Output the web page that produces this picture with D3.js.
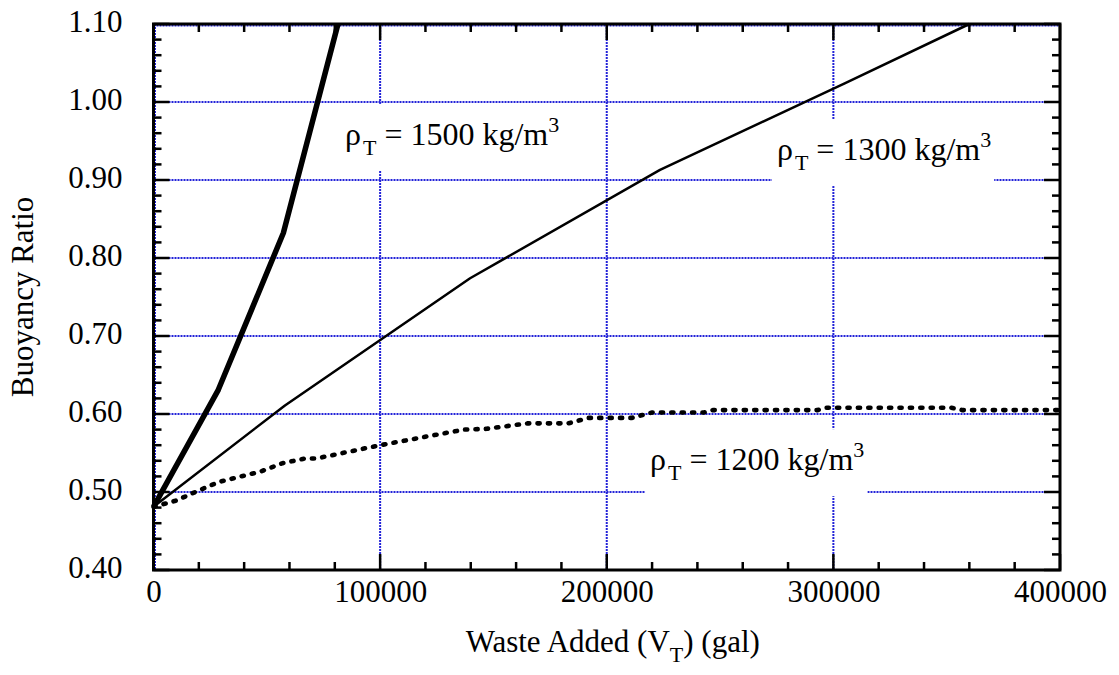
<!DOCTYPE html>
<html>
<head>
<meta charset="utf-8">
<script src="https://cdn.jsdelivr.net/npm/d3@7"></script>
<style>
  html, body { margin: 0; padding: 0; background: #fff; }
  svg { display: block; font-family: "Liberation Serif", "Times New Roman", serif; }
</style>
</head>
<body>
<svg id="chart" width="1119" height="675"></svg>
<script>
// Waste added (gal) vs buoyancy ratio for three waste densities
const rho1500Gal   = [0, 28600, 57300, 81400];
const rho1500Ratio = [0.481, 0.631, 0.832, 1.100];

const rho1300Gal   = [0, 58000, 139700, 223500, 305000, 360000];
const rho1300Ratio = [0.481, 0.611, 0.774, 0.913, 1.024, 1.100];

const rho1200Gal   = [0, 10000, 20000, 29000, 47000, 57000, 67000, 72000, 100000, 137000,
                      147000, 165000, 183000, 192000, 211000, 220000, 243000, 247000,
                      293000, 297000, 352000, 357000, 400000];
const rho1200Ratio = [0.481, 0.489, 0.502, 0.513, 0.526, 0.537, 0.543, 0.543, 0.560, 0.580,
                      0.581, 0.588, 0.588, 0.595, 0.595, 0.602, 0.602, 0.605,
                      0.605, 0.608, 0.608, 0.605, 0.605];

const xTickValues = [0, 100000, 200000, 300000, 400000];
const xTickLabels = ["0", "100000", "200000", "300000", "400000"];
const yTickValues = [0.4, 0.5, 0.6, 0.7, 0.8, 0.9, 1.0, 1.1];
const yTickLabels = ["0.40", "0.50", "0.60", "0.70", "0.80", "0.90", "1.00", "1.10"];

const curveLabels = ["1500", "1300", "1200"];
// label anchors in data units (start of text, baseline)
const labelGal   = [84500, 275100, 219100];
const labelRatio = [0.945, 0.9256, 0.528];

const svg = d3.select("#chart");
const plotL = 153.5, plotR = 1060, plotT = 24, plotB = 570;

const x = d3.scaleLinear().domain([0, 400000]).range([plotL, plotR]);
const y = d3.scaleLinear().domain([0.4, 1.1]).range([plotB, plotT]);

// grid
const gridColor = "#2323d8";
const grid = svg.append("g");
grid.selectAll("line.h").data(yTickValues).join("line")
  .attr("x1", plotL).attr("x2", plotR)
  .attr("y1", d => y(d) + (d === 1.1 ? 1.5 : 0)).attr("y2", d => y(d) + (d === 1.1 ? 1.5 : 0))
  .attr("stroke", gridColor).attr("stroke-width", 2).attr("stroke-dasharray", "2,1");
grid.selectAll("line.v").data(xTickValues).join("line")
  .attr("y1", plotT).attr("y2", plotB)
  .attr("x1", d => x(d) + (d === 0 ? 1.5 : 0)).attr("x2", d => x(d) + (d === 0 ? 1.5 : 0))
  .attr("stroke", gridColor).attr("stroke-width", 2).attr("stroke-dasharray", "2,1");

// label backgrounds and text
const bgLayer = svg.append("g");
const lineLayer = svg.append("g");
const frameLayer = svg.append("g");
const textLayer = svg.append("g");

curveLabels.forEach((val, i) => {
  const tx = x(labelGal[i]), ty = y(labelRatio[i]);
  const t = textLayer.append("text")
    .attr("x", tx).attr("y", ty)
    .attr("font-size", 32).attr("fill", "#000");
  t.append("tspan").text("ρ");
  t.append("tspan").attr("font-size", 22).attr("dy", 10).attr("dx", 2).text("T");
  t.append("tspan").attr("dy", -10).text(" = " + val + " kg/m");
  t.append("tspan").attr("font-size", 22).attr("dy", -13).text("3");
  const bb = t.node().getBBox();
  bgLayer.append("rect")
    .attr("x", bb.x - 5).attr("y", ty - 41)
    .attr("width", bb.width + 8).attr("height", 67)
    .attr("fill", "#fff");
});

// curves
const line = d3.line().x(d => x(d[0])).y(d => y(d[1]));
const zip = (a, b) => a.map((v, i) => [v, b[i]]);

lineLayer.append("path").datum(zip(rho1500Gal, rho1500Ratio))
  .attr("d", line).attr("fill", "none").attr("stroke", "#000")
  .attr("stroke-width", 5.5).attr("stroke-linejoin", "round");
lineLayer.append("path").datum(zip(rho1300Gal, rho1300Ratio))
  .attr("d", line).attr("fill", "none").attr("stroke", "#000")
  .attr("stroke-width", 2.5).attr("stroke-linejoin", "round");
lineLayer.append("path").datum(zip(rho1200Gal, rho1200Ratio))
  .attr("d", line).attr("fill", "none").attr("stroke", "#000")
  .attr("stroke-width", 4.6).attr("stroke-linecap", "round")
  .attr("stroke-dasharray", "2.2,8.2");

// ticks (inside, all four sides)
const yMinor = d3.range(0.4, 1.1001, 0.02);
const xMinor = d3.range(0, 400001, 20000);
const isMajorY = d => Math.abs(Math.round(d * 10) - d * 10) < 1e-6;
const isMajorX = d => d % 100000 === 0;
const tickW = 2.5;

frameLayer.selectAll("line.yl").data(yMinor).join("line")
  .attr("x1", plotL).attr("x2", d => plotL + (isMajorY(d) ? 16 : 8))
  .attr("y1", d => y(d)).attr("y2", d => y(d))
  .attr("stroke", "#000").attr("stroke-width", tickW);
frameLayer.selectAll("line.yr").data(yMinor).join("line")
  .attr("x1", plotR).attr("x2", d => plotR - (isMajorY(d) ? 16 : 8))
  .attr("y1", d => y(d)).attr("y2", d => y(d))
  .attr("stroke", "#000").attr("stroke-width", tickW);
frameLayer.selectAll("line.xb").data(xMinor).join("line")
  .attr("y1", plotB).attr("y2", d => plotB - (isMajorX(d) ? 16 : 8))
  .attr("x1", d => x(d)).attr("x2", d => x(d))
  .attr("stroke", "#000").attr("stroke-width", tickW);
frameLayer.selectAll("line.xt").data(xMinor).join("line")
  .attr("y1", plotT).attr("y2", d => plotT + (isMajorX(d) ? 16 : 8))
  .attr("x1", d => x(d)).attr("x2", d => x(d))
  .attr("stroke", "#000").attr("stroke-width", tickW);

frameLayer.append("rect")
  .attr("x", plotL).attr("y", plotT).attr("width", plotR - plotL).attr("height", plotB - plotT)
  .attr("fill", "none").attr("stroke", "#000").attr("stroke-width", 3);

// tick labels through d3 axes (tick lines hidden, frame drawn above)
const xAxis = d3.axisBottom(x).tickValues(xTickValues)
  .tickFormat((d, i) => xTickLabels[i]).tickSize(0).tickPadding(0);
const gx = textLayer.append("g").attr("transform", `translate(0,${plotB})`).call(xAxis);
gx.attr("font-family", null);
gx.select(".domain").remove();
gx.selectAll("text").attr("font-family", "Liberation Serif").attr("font-size", 31)
  .attr("fill", "#000").attr("dy", null).attr("y", 32);

const yAxis = d3.axisLeft(y).tickValues(yTickValues)
  .tickFormat((d, i) => yTickLabels[i]).tickSize(0).tickPadding(0);
const gy = textLayer.append("g").attr("transform", `translate(${plotL - 31},0)`).call(yAxis);
gy.attr("font-family", null);
gy.select(".domain").remove();
gy.selectAll("text").attr("font-family", "Liberation Serif").attr("font-size", 31)
  .attr("fill", "#000").attr("dy", null).attr("y", 7);

// axis titles
const xt = textLayer.append("text")
  .attr("x", (plotL + plotR) / 2 + 6).attr("y", 652)
  .attr("text-anchor", "middle").attr("font-size", 31).attr("fill", "#000");
xt.append("tspan").text("Waste Added (V");
xt.append("tspan").attr("font-size", 22).attr("dy", 10).text("T");
xt.append("tspan").attr("dy", -10).text(") (gal)");

textLayer.append("text")
  .attr("transform", `translate(33,${(plotT + plotB) / 2}) rotate(-90)`)
  .attr("text-anchor", "middle").attr("font-size", 31).attr("fill", "#000")
  .text("Buoyancy Ratio");
</script>
</body>
</html>
